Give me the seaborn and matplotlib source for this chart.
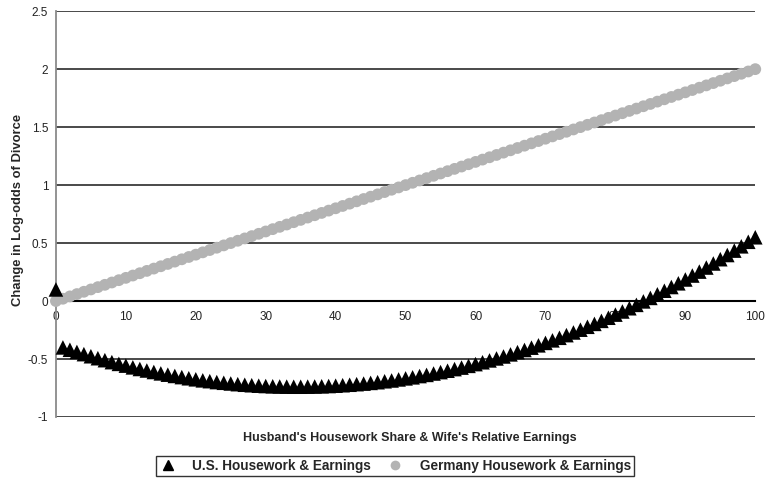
import pandas as pd
import numpy as np
import seaborn as sns
import matplotlib.pyplot as plt

# x positions: husband's housework share / wife's relative earnings (0-100)
share = list(range(0, 101))

# U.S. series
us_change = [
    0.100, -0.400, -0.420, -0.439, -0.458, -0.476, -0.493, -0.510, -0.527, -0.542,
    -0.557, -0.572, -0.586, -0.599, -0.612, -0.624, -0.635, -0.646, -0.656, -0.666,
    -0.675, -0.684, -0.691, -0.699, -0.705, -0.711, -0.717, -0.722, -0.726, -0.730,
    -0.733, -0.735, -0.737, -0.738, -0.739, -0.739, -0.738, -0.737, -0.735, -0.733,
    -0.730, -0.726, -0.722, -0.717, -0.712, -0.706, -0.700, -0.692, -0.685, -0.676,
    -0.667, -0.658, -0.647, -0.637, -0.625, -0.613, -0.601, -0.587, -0.574, -0.559,
    -0.544, -0.528, -0.512, -0.495, -0.478, -0.460, -0.441, -0.422, -0.402, -0.382,
    -0.361, -0.339, -0.317, -0.294, -0.271, -0.247, -0.222, -0.197, -0.171, -0.144,
    -0.117, -0.090, -0.062, -0.033, -0.003, 0.027, 0.058, 0.089, 0.121, 0.153,
    0.186, 0.220, 0.254, 0.289, 0.324, 0.361, 0.397, 0.435, 0.472, 0.511,
    0.550,
]

# Germany series
de_change = [
    0.00, 0.02, 0.04, 0.06, 0.08, 0.10, 0.12, 0.14, 0.16, 0.18,
    0.20, 0.22, 0.24, 0.26, 0.28, 0.30, 0.32, 0.34, 0.36, 0.38,
    0.40, 0.42, 0.44, 0.46, 0.48, 0.50, 0.52, 0.54, 0.56, 0.58,
    0.60, 0.62, 0.64, 0.66, 0.68, 0.70, 0.72, 0.74, 0.76, 0.78,
    0.80, 0.82, 0.84, 0.86, 0.88, 0.90, 0.92, 0.94, 0.96, 0.98,
    1.00, 1.02, 1.04, 1.06, 1.08, 1.10, 1.12, 1.14, 1.16, 1.18,
    1.20, 1.22, 1.24, 1.26, 1.28, 1.30, 1.32, 1.34, 1.36, 1.38,
    1.40, 1.42, 1.44, 1.46, 1.48, 1.50, 1.52, 1.54, 1.56, 1.58,
    1.60, 1.62, 1.64, 1.66, 1.68, 1.70, 1.72, 1.74, 1.76, 1.78,
    1.80, 1.82, 1.84, 1.86, 1.88, 1.90, 1.92, 1.94, 1.96, 1.98,
    2.00,
]

x_ticks = [0, 10, 20, 30, 40, 50, 60, 70, 80, 90, 100]
y_ticks = [-1, -0.5, 0, 0.5, 1, 1.5, 2, 2.5]
y_tick_labels = ['-1', '-0.5', '0', '0.5', '1', '1.5', '2', '2.5']

us_label = 'U.S. Housework & Earnings'
de_label = 'Germany Housework & Earnings'

df_us = pd.DataFrame({'share': share, 'change': us_change})
df_de = pd.DataFrame({'share': share, 'change': de_change})

sns.set_style('white')
plt.rcParams['font.family'] = ['Liberation Sans', 'DejaVu Sans']

fig = plt.figure(figsize=(7.66, 4.86), dpi=100)
ax = fig.add_axes([0.073, 0.142, 0.913, 0.835])

# Horizontal gridlines (not at zero, the axis sits there)
for yv in y_ticks:
    if yv != 0:
        ax.axhline(yv, color='#3a3a3a', lw=1.3, zorder=1)

sns.scatterplot(data=df_de, x='share', y='change', ax=ax, marker='o',
                s=72, color='#b3b3b3', edgecolor='none', label=de_label,
                zorder=3, legend=False, clip_on=False)
sns.scatterplot(data=df_us, x='share', y='change', ax=ax, marker='^',
                s=110, color='black', edgecolor='none', label=us_label,
                zorder=4, legend=False, clip_on=False)

ax.set_xlim(0, 100)
ax.set_ylim(-1, 2.5)

# x-axis crosses at zero
ax.spines['bottom'].set_position(('data', 0))
ax.spines['bottom'].set_color('black')
ax.spines['bottom'].set_linewidth(1.5)
ax.spines['bottom'].set_zorder(2)
ax.spines['left'].set_color('#8a8a8a')
ax.spines['left'].set_linewidth(1.3)
ax.spines['top'].set_visible(False)
ax.spines['right'].set_visible(False)

ax.set_xticks(x_ticks)
ax.set_xticklabels([str(t) for t in x_ticks])
ax.set_yticks(y_ticks)
ax.set_yticklabels(y_tick_labels)
ax.tick_params(axis='both', labelsize=8.5, colors='#222222', length=3.5,
               width=1, direction='out', pad=2)
ax.tick_params(axis='x', pad=4)

ax.set_xlabel('')
ax.set_ylabel('Change in Log-odds of Divorce', fontsize=9.4,
              fontweight='bold', labelpad=4)
ax.yaxis.set_label_coords(-0.045, 0.51)
fig.text(0.535, 1 - 438 / 486, "Husband's Housework Share & Wife's Relative Earnings",
         ha='center', va='center', fontsize=9, fontweight='bold')

handles = [
    plt.Line2D([], [], ls='none', marker='^', color='black', markersize=7),
    plt.Line2D([], [], ls='none', marker='o', color='#b3b3b3',
               markeredgecolor='none', markersize=7),
]
leg = fig.legend(handles, [us_label, de_label], ncol=2,
                 loc='center', bbox_to_anchor=(0.516, 1 - 466 / 486),
                 frameon=True, fancybox=False,
                 prop={'weight': 'bold', 'size': 9.8},
                 handletextpad=1.2, columnspacing=1.2, borderpad=0.25,
                 handlelength=1.2)
leg.get_frame().set_edgecolor('black')
leg.get_frame().set_linewidth(1.0)

plt.savefig('out.png', dpi=100)
